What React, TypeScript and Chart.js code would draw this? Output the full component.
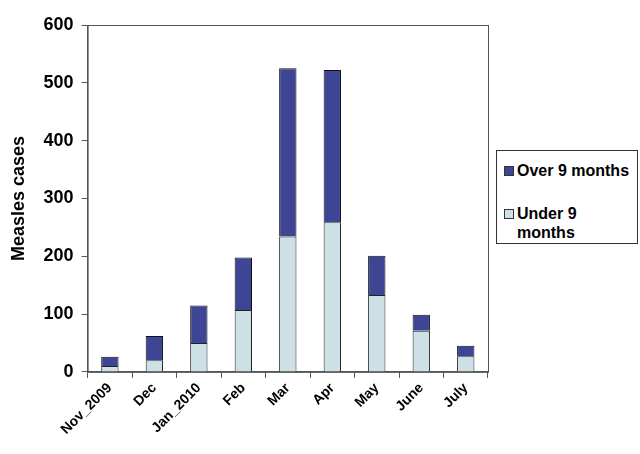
import React, { useEffect, useRef } from "react";
import { Chart, registerables } from "chart.js";

Chart.register(...registerables);

const months = ["Nov_2009", "Dec", "Jan_2010", "Feb", "Mar", "Apr", "May", "June", "July"];
const under9 = [10, 20, 50, 107, 234, 259, 133, 71, 27];
const over9 = [16, 42, 65, 91, 291, 263, 68, 28, 18];
const yTicks = [0, 100, 200, 300, 400, 500, 600];

const OVER_COLOR = "#3e4594";
const UNDER_COLOR = "#cde0e6";

// plot frame on all four sides
const framePlugin = {
  id: "frame",
  afterDraw(chart: any) {
    const { ctx, chartArea } = chart;
    ctx.save();
    ctx.strokeStyle = "#555";
    ctx.lineWidth = 1;
    ctx.strokeRect(chartArea.left + 0.5, chartArea.top + 0.5, chartArea.right - chartArea.left, chartArea.bottom - chartArea.top);
    ctx.restore();
  },
};

export default function App() {
  const canvasRef = useRef<HTMLCanvasElement>(null);

  useEffect(() => {
    document.body.style.margin = "0";
    const chart = new Chart(canvasRef.current!, {
      type: "bar",
      data: {
        labels: months,
        datasets: [
          {
            label: "Under 9 months",
            data: under9,
            backgroundColor: UNDER_COLOR,
            borderColor: "#222",
            borderWidth: 1,
            barPercentage: 0.39,
            categoryPercentage: 1,
          },
          {
            label: "Over 9 months",
            data: over9,
            backgroundColor: OVER_COLOR,
            borderColor: "#111",
            borderWidth: 1,
            barPercentage: 0.39,
            categoryPercentage: 1,
          },
        ],
      },
      options: {
        animation: false,
        responsive: false,
        layout: { padding: { left: 8, right: 152, top: 25, bottom: 14 } },
        plugins: { legend: { display: false }, tooltip: { enabled: false } },
        scales: {
          x: {
            stacked: true,
            grid: { drawOnChartArea: false, tickLength: 6, color: "#555", offset: true },
            border: { color: "#555" },
            ticks: {
              color: "#000",
              font: { family: "Liberation Sans, Arial", size: 14, weight: "bold" },
              maxRotation: 45,
              minRotation: 45,
              padding: 2,
            },
          },
          y: {
            stacked: true,
            min: 0,
            max: 600,
            afterBuildTicks: (axis: any) => {
              axis.ticks = yTicks.map((v) => ({ value: v }));
            },
            grid: { drawOnChartArea: false, tickLength: 6, color: "#555" },
            border: { color: "#555" },
            ticks: {
              color: "#000",
              font: { family: "Liberation Sans, Arial", size: 18, weight: "bold" },
              padding: 8,
            },
            title: {
              display: true,
              text: "Measles cases",
              color: "#000",
              font: { family: "Liberation Sans, Arial", size: 18, weight: "bold" },
              padding: { top: 0, bottom: 6 },
            },
          },
        },
      },
      plugins: [framePlugin],
    });
    return () => {
      chart.destroy();
    };
  }, []);

  const itemText: React.CSSProperties = {
    fontFamily: "Liberation Sans, Arial",
    fontWeight: "bold",
    fontSize: 16,
    lineHeight: "19px",
    color: "#000",
  };
  const swatch = (c: string): React.CSSProperties => ({
    position: "absolute",
    left: 7,
    width: 8,
    height: 8,
    background: c,
    border: "1px solid #333",
  });

  return (
    <div style={{ position: "relative", width: 640, height: 454, background: "#fff" }}>
      <canvas ref={canvasRef} width={640} height={454}></canvas>
      <div
        style={{
          position: "absolute",
          left: 496,
          top: 150,
          width: 140,
          height: 92,
          border: "1px solid #333",
          background: "#fff",
        }}
      >
        <div style={{ position: "absolute", top: 10, left: 0, width: 140 }}>
          <div style={{ ...swatch(OVER_COLOR), top: 5 }}></div>
          <div style={{ ...itemText, marginLeft: 20 }}>Over 9 months</div>
        </div>
        <div style={{ position: "absolute", top: 53, left: 0, width: 140 }}>
          <div style={{ ...swatch(UNDER_COLOR), top: 5 }}></div>
          <div style={{ ...itemText, marginLeft: 20 }}>
            Under 9
            <br />
            months
          </div>
        </div>
      </div>
    </div>
  );
}
